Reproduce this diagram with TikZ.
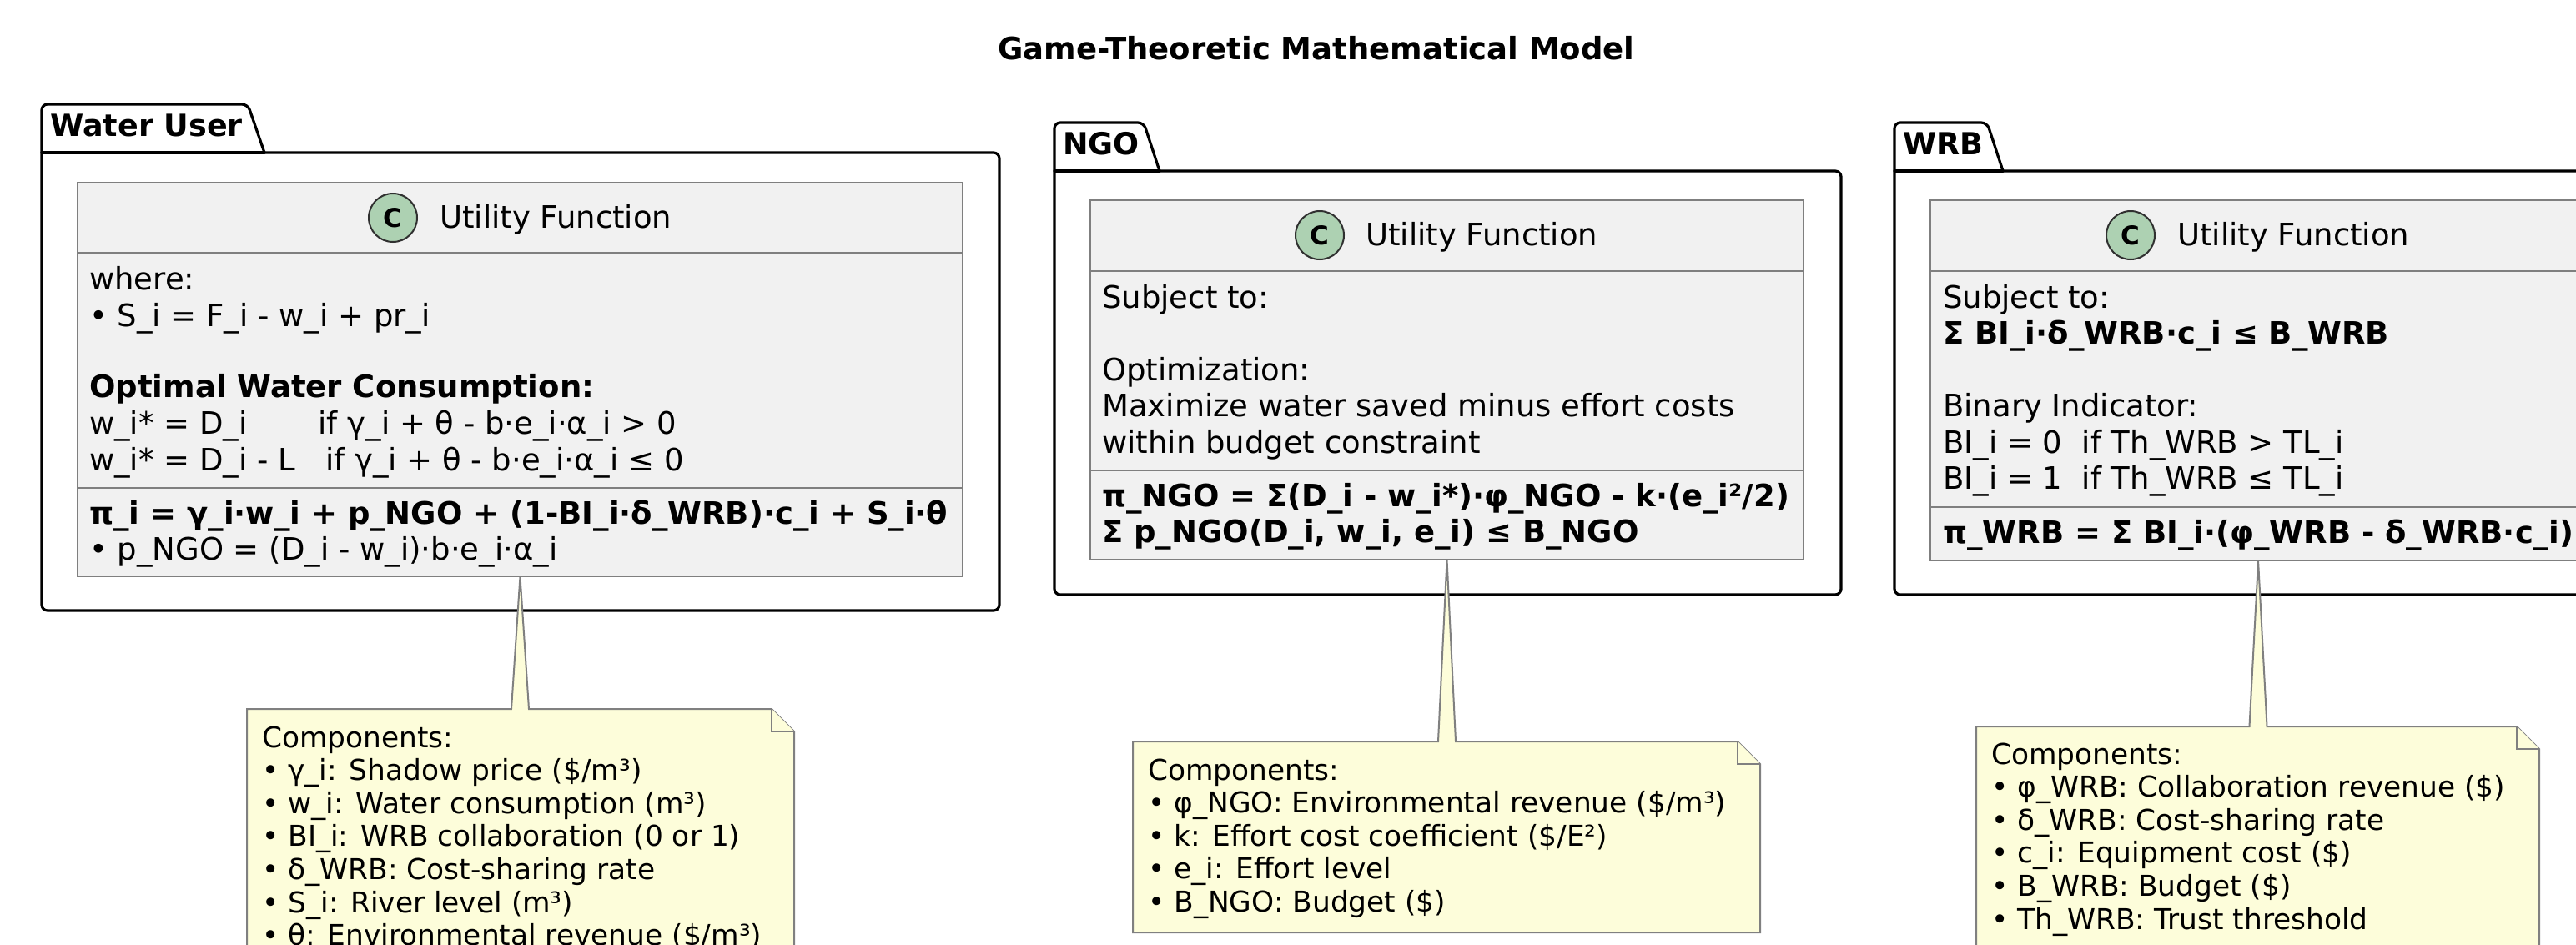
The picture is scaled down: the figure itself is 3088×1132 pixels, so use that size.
\documentclass[tikz,border=0pt]{standalone}
\usepackage{fontspec}
\setmainfont{DejaVu Sans}
\usetikzlibrary{calc}
\definecolor{cfill}{HTML}{F1F1F1}
\definecolor{cborder}{HTML}{7F7F7F}
\definecolor{cgreen}{HTML}{ADD1B2}
\definecolor{iconborder}{HTML}{303030}
\definecolor{nfill}{HTML}{FDFDDA}
\definecolor{nborder}{HTML}{808080}
\newcommand\fclass{\fontsize{37}{44}\selectfont}
\newcommand\fnote{\fontsize{34.4}{40}\selectfont}
\newcommand\fpkg{\fontsize{36.5}{44}\selectfont\bfseries}
\begin{document}
\begin{tikzpicture}[x=1pt,y=-1pt,
  pkg/.style={draw=black, line width=3.2pt, line join=round, line cap=round},
  classbox/.style={draw=cborder, fill=cfill, line width=2pt, inner sep=0pt, outer sep=0pt, anchor=north west},
  cdiv/.style={draw=cborder, line width=2pt},
  cicon/.style={circle, draw=iconborder, fill=cgreen, line width=2pt, minimum size=58pt, inner sep=0pt, font=\fontsize{31}{31}\selectfont\bfseries},
  ctext/.style={anchor=base west, inner sep=0pt, font=\fclass},
  cbold/.style={anchor=base west, inner sep=0pt, font=\fclass\bfseries},
  ntext/.style={anchor=base west, inner sep=0pt, font=\fnote},
  ptext/.style={anchor=base west, inner sep=0pt, font=\fpkg},
  noteshape/.style={draw=nborder, fill=nfill, line width=2pt, line join=miter},
  noteholder/.style={inner sep=0pt, outer sep=0pt, anchor=north west},
]
\path[use as bounding box] (0,0) rectangle (3088,1132);
\fill[white] (0,0) rectangle (3088,1132);
\clip (0,0) rectangle (3088,1132);

% title
\node[anchor=base, inner sep=0pt, font=\fclass\bfseries] (title) at (1578,71) {Game-Theoretic Mathematical Model};

% ---------- packages ----------
\draw[pkg] (317,183) [rounded corners=7pt] -- (1198,183) -- (1198,732) -- (50,732) -- (50,125) -- (297,125) -- (317,183);
\draw[pkg] (50,183) -- (317,183);
\node[ptext] (pwu) at (60,163) {Water User};

\draw[pkg] (1390,205) [rounded corners=7pt] -- (2207,205) -- (2207,713) -- (1264,713) -- (1264,147) -- (1371,147) -- (1390,205);
\draw[pkg] (1264,205) -- (1390,205);
\node[ptext] (pngo) at (1274,185) {NGO};

\draw[pkg] (2401,205) [rounded corners=7pt] -- (3143,205) -- (3143,713) -- (2271,713) -- (2271,147) -- (2382,147) -- (2401,205);
\draw[pkg] (2271,205) -- (2401,205);
\node[ptext] (pwrb) at (2281,185) {WRB};

% ---------- Water User class ----------
\node[classbox, minimum width=1061pt, minimum height=472pt] (wuc) at (93,219) {};
\draw[cdiv] (93,303) -- (1154,303);
\draw[cdiv] (93,585) -- (1154,585);
\node[cicon] (wuicon) at (471,261) {C};
\node[ctext] (wuh) at (527,273) {Utility Function};
\node[ctext] (wu1) at (107,347) {where:};
\node[ctext] (wu2) at (107,391) {• S\_i = F\_i - w\_i + pr\_i};
\node[cbold] (wu3) at (107,476) {Optimal Water Consumption:};
\node[ctext] (wu4) at (107,520) {w\_i* = D\_i\hspace{85pt}if γ\_i + θ - b·e\_i·α\_i > 0};
\node[ctext] (wu5) at (107,564) {w\_i* = D\_i - L\hspace{36pt}if γ\_i + θ - b·e\_i·α\_i ≤ 0};
\node[cbold] (wu6) at (107,628) {π\_i = γ\_i·w\_i + p\_NGO + (1-BI\_i·δ\_WRB)·c\_i + S\_i·θ};
\node[ctext] (wu7) at (107,671) {• p\_NGO = (D\_i - w\_i)·b·e\_i·α\_i};

% ---------- NGO class ----------
\node[classbox, minimum width=855pt, minimum height=431pt] (ngc) at (1307,240) {};
\draw[cdiv] (1307,325) -- (2162,325);
\draw[cdiv] (1307,564) -- (2162,564);
\node[cicon] (ngicon) at (1582,282) {C};
\node[ctext] (ngh) at (1637,294) {Utility Function};
\node[ctext] (ng1) at (1321,369) {Subject to:};
\node[ctext] (ng2) at (1321,456) {Optimization:};
\node[ctext] (ng3) at (1321,499.5) {Maximize water saved minus effort costs};
\node[ctext] (ng4) at (1321,543) {within budget constraint};
\node[cbold] (ng5) at (1321,607) {π\_NGO = Σ(D\_i - w\_i*)·φ\_NGO - k·(e\_i²/2)};
\node[cbold] (ng6) at (1321,650.5) {Σ p\_NGO(D\_i, w\_i, e\_i) ≤ B\_NGO};

% ---------- WRB class ----------
\node[classbox, minimum width=786pt, minimum height=432pt] (wrc) at (2314,240) {};
\draw[cdiv] (2314,325) -- (3100,325);
\draw[cdiv] (2314,607.5) -- (3100,607.5);
\node[cicon] (wricon) at (2554,282) {C};
\node[ctext] (wrh) at (2610,294) {Utility Function};
\node[ctext] (wr1) at (2329,369) {Subject to:};
\node[cbold] (wr2) at (2329,412.5) {Σ BI\_i·δ\_WRB·c\_i ≤ B\_WRB};
\node[ctext] (wr3) at (2329,499.5) {Binary Indicator:};
\node[ctext] (wr4) at (2329,543) {BI\_i = 0~~if Th\_WRB > TL\_i};
\node[ctext] (wr5) at (2329,586.5) {BI\_i = 1~~if Th\_WRB ≤ TL\_i};
\node[cbold] (wr6) at (2329,651) {π\_WRB = Σ BI\_i·(φ\_WRB - δ\_WRB·c\_i)};

% ---------- notes ----------
\node[noteholder, minimum width=656pt, minimum height=309pt] (wun) at (296,850) {};
\node[noteholder, minimum width=752pt, minimum height=229pt] (ngn) at (1358,889) {};
\node[noteholder, minimum width=675pt, minimum height=269pt] (wrn) at (2369,871) {};

\foreach \c/\n in {wuc/wun, ngc/ngn, wrc/wrn}{
  \draw[noteshape] (\n.north west)
     -- ($(\c.south |- \n.north)+(-10.5pt,0pt)$)
     -- (\c.south)
     -- ($(\c.south |- \n.north)+(10.5pt,0pt)$)
     -- ($(\n.north east)+(-27pt,0pt)$)
     -- ($(\n.north east)+(0pt,-27pt)$)
     -- (\n.south east) -- (\n.south west) -- cycle;
  \draw[noteshape] ($(\n.north east)+(-27pt,0pt)$) -- ($(\n.north east)+(-27pt,-27pt)$) -- ($(\n.north east)+(0pt,-27pt)$);
}

\node[ntext] (wun0) at (314,896) {Components:};
\node[ntext] (wun1) at (314,935.6) {• γ\_i: Shadow price (\$/m³)};
\node[ntext] (wun2) at (314,975.2) {• w\_i: Water consumption (m³)};
\node[ntext] (wun3) at (314,1014.8) {• BI\_i: WRB collaboration (0 or 1)};
\node[ntext] (wun4) at (314,1054.4) {• δ\_WRB: Cost-sharing rate};
\node[ntext] (wun5) at (314,1094) {• S\_i: River level (m³)};
\node[ntext] (wun6) at (314,1133.6) {• θ: Environmental revenue (\$/m³)};

\node[ntext] (ngn0) at (1376,935) {Components:};
\node[ntext] (ngn1) at (1376,974.6) {• φ\_NGO: Environmental revenue (\$/m³)};
\node[ntext] (ngn2) at (1376,1014.2) {• k: Effort cost coefficient (\$/E²)};
\node[ntext] (ngn3) at (1376,1053.8) {• e\_i: Effort level};
\node[ntext] (ngn4) at (1376,1093.4) {• B\_NGO: Budget (\$)};

\node[ntext] (wrn0) at (2387,916) {Components:};
\node[ntext] (wrn1) at (2387,955.6) {• φ\_WRB: Collaboration revenue (\$)};
\node[ntext] (wrn2) at (2387,995.2) {• δ\_WRB: Cost-sharing rate};
\node[ntext] (wrn3) at (2387,1034.8) {• c\_i: Equipment cost (\$)};
\node[ntext] (wrn4) at (2387,1074.4) {• B\_WRB: Budget (\$)};
\node[ntext] (wrn5) at (2387,1114) {• Th\_WRB: Trust threshold};
\end{tikzpicture}
\end{document}
